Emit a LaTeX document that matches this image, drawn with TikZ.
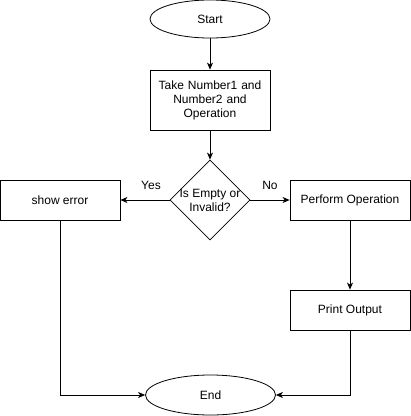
\documentclass[tikz,border=0pt]{standalone}
\usepackage{fontspec}
\setmainfont{Liberation Sans}
\usetikzlibrary{shapes.geometric,arrows.meta}
\begin{document}
\begin{tikzpicture}[x=1pt,y=-1pt,
  every node/.style={font=\fontsize{12}{14}\selectfont},
  box/.style={draw,line width=0.8pt,minimum width=120pt,minimum height=40pt,inner sep=0pt,align=center},
  oval/.style={draw,line width=0.8pt,ellipse,inner sep=0pt,align=center},
  dia/.style={draw,line width=0.8pt,diamond,minimum width=80pt,minimum height=80pt,inner sep=0pt,align=center,aspect=1},
  conn/.style={line width=0.8pt,-{Stealth[length=7pt,width=6pt,inset=2pt]}},
  lbl/.style={inner sep=0pt}]
\useasboundingbox (0,0) rectangle (411,416);
\node[oval,minimum width=120pt,minimum height=38pt] (start) at (210,19) {Start};
\node[box,minimum height=60pt,text width=116pt] (take) at (210,100) {Take Number1 and\\Number2 and\\Operation};
\node[dia] (dec) at (210,200) {};
\node[align=center,inner sep=0pt] (dectext) at (210,200) {Is Empty or\\Invalid?};
\node[box] (err) at (60,200) {show error};
\node[box] (perf) at (350,200) {Perform Operation};
\node[box] (print) at (350,310) {Print Output};
\node[oval,minimum width=130pt,minimum height=40pt] (end) at (210.5,395) {End};
\node[lbl] (yes) at (151,185) {Yes};
\node[lbl] (no) at (270,185) {No};
\coordinate (errc) at (60,395);
\coordinate (printc) at (350,395);
\draw[conn] (start) -- (take);
\draw[conn] (take) -- (dec);
\draw[conn] (dec.west) -- (err.east);
\draw[conn] (dec.east) -- (perf.west);
\draw[conn] (perf) -- (print);
\draw[conn] (err.south) -- (errc) -- (end.west);
\draw[conn] (print.south) -- (printc) -- (end.east);
\end{tikzpicture}
\end{document}
